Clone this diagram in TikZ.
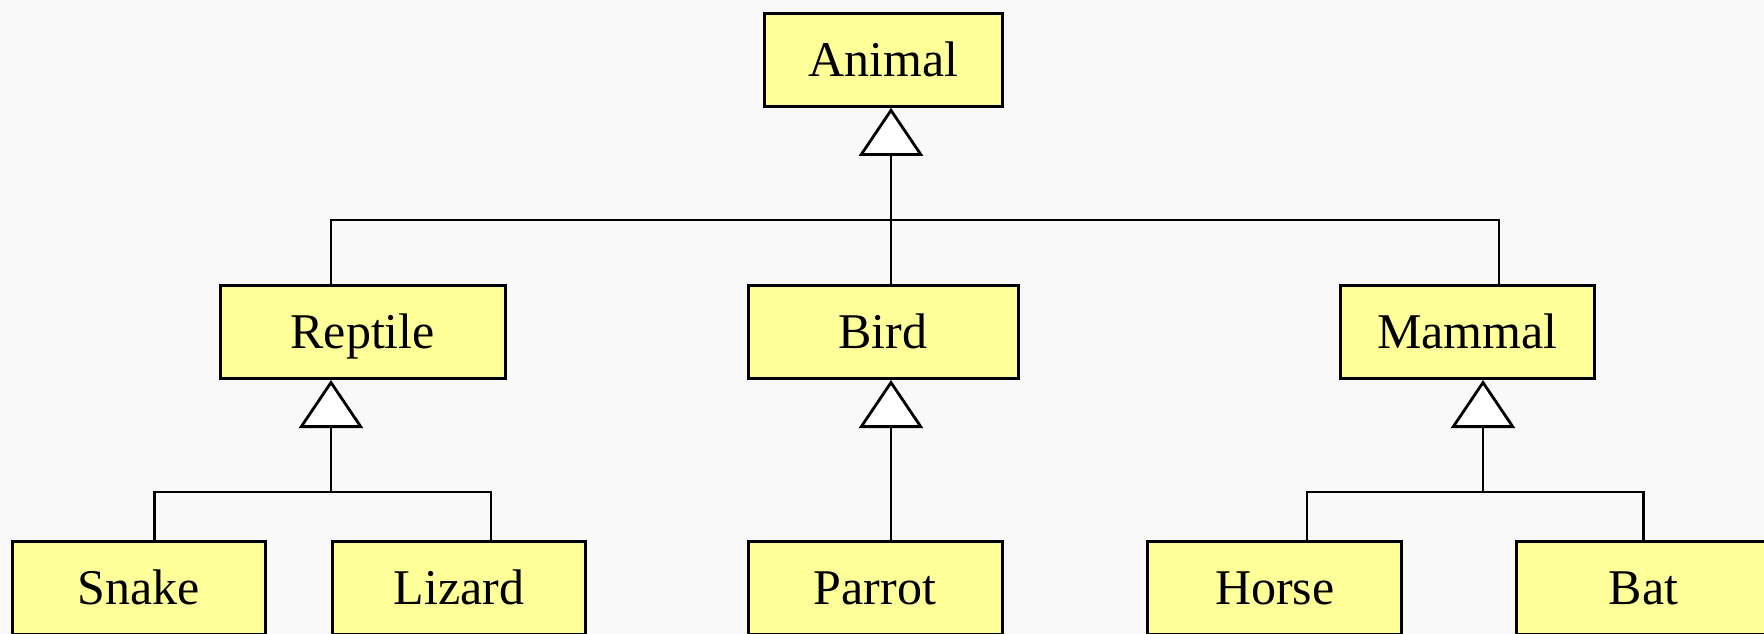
\documentclass[tikz,border=0pt]{standalone}
\usepackage{fontspec}
\setmainfont{Liberation Serif}
\usetikzlibrary{arrows.meta}
\definecolor{boxfill}{RGB}{255,255,153}
\definecolor{bgcol}{RGB}{249,249,249}
\tikzset{
  classbox/.style={draw=black, line width=3pt, fill=boxfill, inner sep=0pt,
    minimum height=93pt, text height=33pt, text depth=0pt,
    font=\fontsize{50}{60}\selectfont},
  conn/.style={draw=black, line width=2.8pt},
  gen/.style={conn, -{Triangle[length=48pt, width=64pt, fill=white]}},
}
\begin{document}
\begin{tikzpicture}[x=1pt, y=-1pt]
\useasboundingbox (0,0) rectangle (1764,634);
\clip (0,0) rectangle (1764,634);
\fill[bgcol] (0,0) rectangle (1764,634);

% classes
\node[classbox, minimum width=238pt] (animal) at (883.3,59.8) {Animal};
\node[classbox, minimum width=285pt] (reptile) at (362.7,332) {Reptile};
\node[classbox, minimum width=270pt] (bird) at (883,332) {Bird};
\node[classbox, minimum width=254pt] (mammal) at (1467.3,332) {Mammal};
\node[classbox, minimum width=253pt] (snake) at (138.8,588) {Snake};
\node[classbox, minimum width=253pt] (lizard) at (459,588) {Lizard};
\node[classbox, minimum width=254pt] (parrot) at (875,588) {Parrot};
\node[classbox, minimum width=254pt] (horse) at (1274.8,588) {Horse};
\node[classbox, minimum width=254pt] (bat) at (1643.5,588) {Bat};

% junction points
\coordinate (t) at (891,220);
\coordinate (tl) at (331,220);
\coordinate (tr) at (1499,220);
\coordinate (r) at (331,492);
\coordinate (rl) at (154.5,492);
\coordinate (rr) at (491,492);
\coordinate (m) at (1483,492);
\coordinate (ml) at (1307,492);
\coordinate (mr) at (1643.3,492);
\coordinate (b) at (891,492);

% top level
\draw[conn] (tl |- reptile.north) -- (tl) -- (tr) -- (tr |- mammal.north);
\draw[conn] (t) -- (t |- bird.north);
\draw[gen] (t) -- (t |- animal.south);

% reptiles
\draw[conn] (rl |- snake.north) -- (rl) -- (rr) -- (rr |- lizard.north);
\draw[gen] (r) -- (r |- reptile.south);

% birds
\draw[gen] (b |- parrot.north) -- (b |- bird.south);

% mammals
\draw[conn] (ml |- horse.north) -- (ml) -- (mr) -- (mr |- bat.north);
\draw[gen] (m) -- (m |- mammal.south);
\end{tikzpicture}
\end{document}
